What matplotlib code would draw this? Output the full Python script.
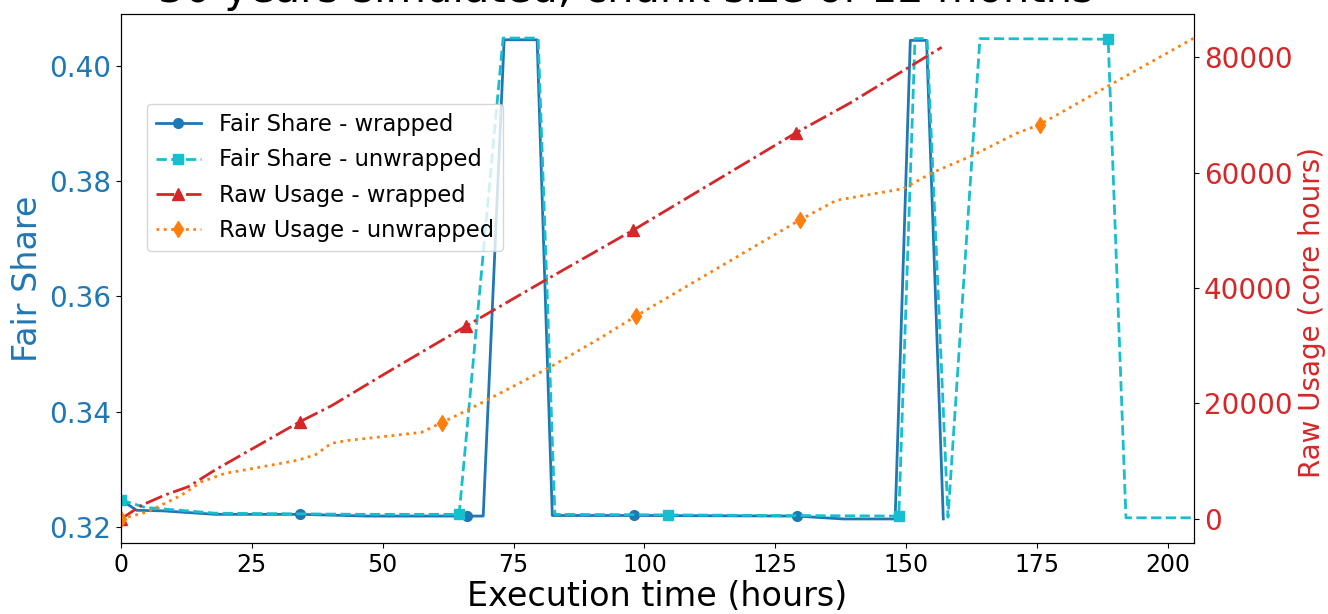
import numpy as np
import matplotlib
matplotlib.use('Agg')
import matplotlib.pyplot as plt

################################################################################
# values
################################################################################
title = '30 years simulated, chunk size of 12 months'

# Fair share - wrapped (hours, share)
fs_w_x = [0, 3, 8, 18, 34.2, 47, 66.1, 69.2, 73.2, 79.5, 82.4, 98.0, 129.1,
          138, 147.9, 150.8, 153.9, 157.1]
fs_w_y = [0.3247, 0.3229, 0.3228, 0.3222, 0.3222, 0.3219, 0.3219, 0.3219,
          0.4045, 0.4045, 0.3220, 0.3220, 0.3219, 0.3214, 0.3214, 0.4044,
          0.4044, 0.3214]
fs_w_marks = [0, 4, 6, 11, 12]

# Fair share - unwrapped
fs_u_x = [0, 4.6, 18, 46, 64.6, 73.0, 79.7, 82.9, 104.6, 148.6, 151.7, 154.0,
          158.0, 164.1, 188.6, 192.0, 205]
fs_u_y = [0.3247, 0.3234, 0.3224, 0.3222, 0.3222, 0.4048, 0.4048, 0.3222,
          0.3221, 0.3219, 0.4047, 0.4047, 0.3217, 0.4047, 0.4046, 0.3216,
          0.3216]
fs_u_marks = [0, 4, 8, 9, 14]

# Raw usage - wrapped (core hours)
ru_w_x = [0, 4, 8.4, 12.9, 18, 27.5, 34.2, 40.2, 50.7, 66.0, 80, 97.9, 128.9,
          139.2, 156.8]
ru_w_y = [0, 2400, 4150, 5600, 8500, 13400, 16850, 19600, 25300, 33450,
          40800, 50050, 66850, 72000, 81700]
ru_w_marks = [0, 6, 9, 11, 12]

# Raw usage - unwrapped
ru_u_x = [0, 5.2, 11.6, 15.4, 19.9, 24.3, 30.7, 33.9, 37.1, 40.2, 43.4, 57.4,
          61.3, 66.3, 81.6, 91.5, 98.4, 129.7, 136.7, 149.4, 155.3, 162.8,
          171.1, 175.5, 188.9, 205]
ru_u_y = [0, 1260, 4150, 6450, 7900, 8600, 9650, 10200, 11100, 13100, 13600,
          15000, 16700, 18900, 26100, 31300, 35150, 51800, 55200, 57200, 60100,
          63000, 66800, 68300, 75150, 83300]
ru_u_marks = [0, 12, 16, 17, 23]

x_ticks = [0, 25, 50, 75, 100, 125, 150, 175, 200]

################################################################################
fig = plt.figure(figsize=(13.28, 6.14), dpi=100)
ax = fig.add_axes((121/1328, 1-543/614, (1194-121)/1328, (543-14)/614))
ax2 = ax.twinx()

l1, = ax.plot(fs_w_x, fs_w_y, '-', color='tab:blue', marker='o', lw=2,
              ms=7, markevery=fs_w_marks, label='Fair Share - wrapped')
l2, = ax.plot(fs_u_x, fs_u_y, '--', color='tab:cyan', marker='s', lw=2,
              ms=7, markevery=fs_u_marks, label='Fair Share - unwrapped')
l3, = ax2.plot(ru_w_x, ru_w_y, '-.', color='tab:red', marker='^', lw=2,
               ms=8, markevery=ru_w_marks, label='Raw Usage - wrapped')
l4, = ax2.plot(ru_u_x, ru_u_y, ':', color='tab:orange', marker='d', lw=2,
               ms=8, markevery=ru_u_marks, label='Raw Usage - unwrapped')

ax.set_xlim(0, fs_u_x[-1])
ax.set_xticks(x_ticks)
ax.tick_params(axis='x', labelsize=17)
ax.tick_params(axis='y', labelsize=20, labelcolor='tab:blue')
ax2.tick_params(axis='y', labelsize=20, labelcolor='tab:red')

ax.set_xlabel('Execution time (hours)', fontsize=24, labelpad=2)
ax.set_ylabel('Fair Share', fontsize=24, color='tab:blue')
ax2.set_ylabel('Raw Usage (core hours)', fontsize=20, color='tab:red')
ax2.yaxis.label.set_y(0.435)

ax2.legend(handles=[l1, l2, l3, l4], fontsize=16.3, loc='upper left',
           bbox_to_anchor=(0.024, 0.83), borderaxespad=0, labelspacing=0.55)

fig.text(626/1328, 1-2/614, title, fontsize=30, ha='center', va='baseline')

fig.savefig('out.png', dpi=100)
